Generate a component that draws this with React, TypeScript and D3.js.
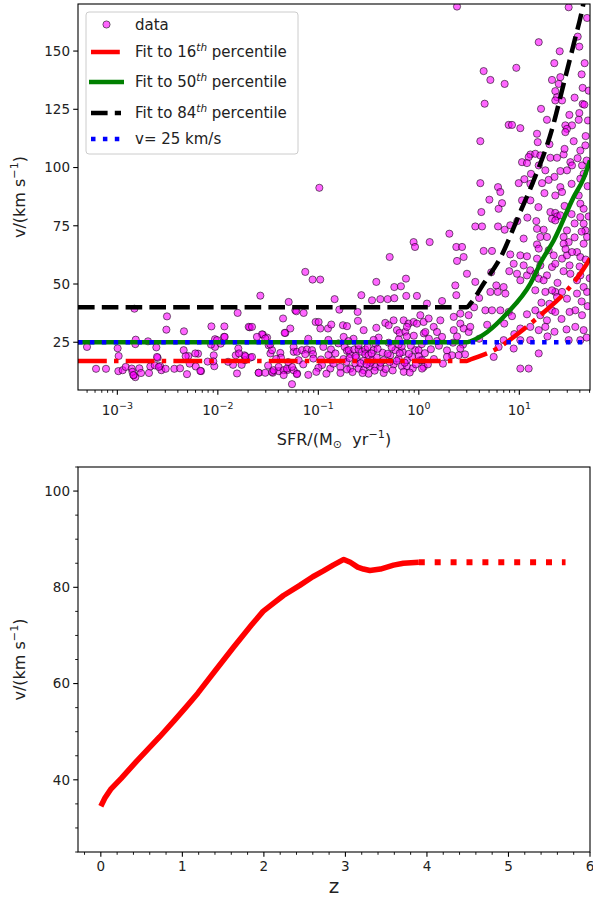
import React from 'react';
import * as d3 from 'd3';

const W = 593;
const H = 904;
const topBox = { l: 78, r: 590, t: 4, b: 390 };
const botBox = { l: 78, r: 590, t: 467, b: 852 };

const sfrDomain = [4.06e-4, 50.5];
const vTopDomain = [4.5, 170.2];
const zDomain = [-0.28, 6.0];
const vBotDomain = [25, 105];

const sfrTickExps = [-3, -2, -1, 0, 1];
const vTopTicks = [25, 50, 75, 100, 125, 150];
const zTicks = [0, 1, 2, 3, 4, 5, 6];
const vBotTicks = [40, 60, 80, 100];

// scatter: [log10 SFR, v]
const dataPoints: [number, number][] = [
  [-2.83,39.4],[-2.506,36.1],[-2.512,30.4],[-2.337,29.7],[-1.803,37.6],[-2.064,31.8],[-1.935,31.8],[-1.683,31.4],[-3.302,23.0],[-2.817,26.1],[-2.695,25.4],[-2.612,22.8],[-2.997,22.4],[-2.987,19.1],[-2.028,26.3],[-1.938,27.3],[-2.028,23.0],[-1.972,24.4],[-2.599,18.3],[-2.293,19.1],[-2.197,20.1],[-2.041,19.4],[-1.822,19.4],[-1.736,19.4],[-1.796,22.3],[-3.212,13.6],[-3.113,13.6],[-2.99,12.6],[-2.947,13.0],[-2.917,14.4],[-2.857,13.7],[-2.781,13.8],[-2.837,10.8],[-2.821,10.0],[-2.764,11.8],[-2.685,11.8],[-2.672,14.6],[-2.628,15.1],[-2.575,14.8],[-2.562,13.0],[-2.519,13.6],[-2.433,13.6],[-2.376,13.8],[-2.307,11.3],[-2.28,15.8],[-2.22,14.6],[-2.167,12.6],[-2.101,16.7],[-2.035,14.7],[-2.045,16.8],[-1.849,15.3],[-1.809,11.6],[-1.763,15.3],[-1.73,17.3],[-1.676,18.4],
  [-2.821,24.2],[-2.85,12.3],[-2.84,10.9],[-2.605,18.7],[-2.588,14.4],[-2.34,21.6],[-2.32,19.0],[-2.224,20.2],[-2.174,12.7],[-2.068,24.0],[-2.008,25.9],[-1.932,27.3],[-1.898,16.6],[-1.789,20.2],[-1.726,19.0],[-1.693,31.6],[-1.66,18.7],[-1.593,11.9],[-1.577,45.0],[-1.553,28.3],[-1.51,27.0],[-1.494,23.7],[-1.477,20.2],[-1.454,11.9],[-1.394,12.6],[-1.351,35.2],[-1.328,29.0],[-1.295,42.3],[-1.311,13.0],[-1.262,7.0],[-1.245,20.9],[-1.229,38.7],[-1.212,11.6],
  [-0.99,91.3],[-1.13,55.2],[-1.057,51.9],[-0.981,51.9],[-0.838,43.5],[-0.572,45.2],[-0.423,50.9],[-0.29,61.6],[-0.052,68.0],[-0.038,65.9],[-0.128,52.3],[-0.244,48.7],[-0.178,49.0],[-0.466,43.0],[-0.383,43.5],[-0.31,43.5],[-0.244,43.9],[-0.125,44.9],[-0.019,44.9],[-1.219,38.3],[-1.146,37.6],[-0.791,39.0],[-0.609,38.0],[-1.027,33.7],[-0.997,33.7],[-1.279,30.9],[-1.335,29.0],[-0.98,30.9],[-0.904,30.9],[-0.871,32.6],[-0.755,32.3],[-0.715,31.9],[-0.606,34.2],[-0.549,30.2],[-0.423,31.2],[-0.334,33.3],[-0.3,32.3],[-0.251,34.4],[-0.151,34.4],[-0.102,33.0],[-0.052,33.7],[-0.019,33.0],[0.048,33.7],[-0.218,30.2],[-0.191,29.0],[-0.135,29.5],[-0.118,31.6],[-1.561,28.4],[-1.528,26.6],[-1.461,21.6],[-1.478,24.1],[-1.378,20.4],[-1.372,18.4],[-1.246,23.0],[-1.213,20.9],[-1.163,21.6],[-1.113,21.9],[-1.063,21.6],[-1.053,19.9],[-1.13,19.9],[-0.874,21.9],[-0.974,17.6],[-0.964,15.2],[-0.881,13.7],[-0.864,17.3],[-0.748,27.3],[-0.738,23.0],[-0.715,21.3],[-0.682,19.9],[-0.698,21.6],[-0.642,21.9],[-0.682,13.7],[-0.715,13.3],[-0.781,14.4],[-0.599,21.9],[-0.566,20.9],[-0.533,21.9],[-0.509,23.0],[-0.533,19.9],[-0.5,19.4],[-0.45,21.6],[-0.433,24.4],[-0.632,15.9],[-0.599,13.7],[-0.549,13.0],[-0.489,14.7],[-0.466,17.3],[-0.433,14.4],[-0.383,14.4],[-0.35,17.3],[-0.284,19.4],[-0.234,21.6],[-0.201,18.0],[-0.168,14.7],[-0.118,14.7],[-0.118,17.3],[-0.068,18.7],[-0.035,21.6],[-0.002,21.6],[0.015,17.3],[0.048,14.4],[-1.594,11.9],[-1.528,11.9],[-1.461,12.3],[-1.445,13.0],[-1.395,14.4],[-1.345,13.0],[-1.312,13.7],[-1.246,13.0],[-1.213,11.3],[-1.345,10.9],[-1.196,17.3],[-1.66,31.6],[-1.611,27.3],[-1.262,14.4],
  [-0.9,26.0],[-0.8,24.5],[-0.65,26.5],[-0.4,27.0],[-0.3,24.8],[-0.2,26.2],[-0.05,27.8],[0.1,26.5],[-1.1,26.5],[-0.55,17.0],[-0.75,17.8],[-0.42,18.5],[-0.25,15.5],[-0.15,12.3],[-0.06,13.8],[-0.9,19.5],[-1.0,14.0],[-0.35,11.8],[-0.5,11.5],[-0.78,11.8],[-0.36,20.5],[-0.27,22.8],[-0.16,20.8],[-0.08,23.5],[0.03,24.2],[-0.62,18.3],[-0.48,16.2],
  [-0.72,16.5],[-0.69,18.2],[-0.66,12.2],[-0.63,19.0],[-0.58,16.0],[-0.56,11.8],[-0.52,15.5],[-0.47,20.2],[-0.44,12.8],[-0.41,22.2],[-0.38,16.2],[-0.33,13.5],[-0.31,20.0],[-0.29,16.5],[-0.26,12.9],[-0.22,17.0],[-0.19,20.3],[-0.17,23.2],[-0.14,16.2],[-0.1,20.0],[-0.09,12.0],[-0.03,15.5],[0.0,19.0],[0.06,20.3],[0.09,15.5],[0.12,22.0],[0.15,17.8],[0.2,23.5],[0.24,15.8],[0.28,21.5],[0.34,24.8],[0.44,24.0],[0.46,19.8],[-0.85,15.8],[-0.83,20.2],[-0.95,23.0],[-1.05,18.0],[-1.15,15.5],[-1.3,16.5],[-1.42,17.8],[-1.5,15.0],[-1.02,12.3],[-0.92,11.5],[-1.1,11.0],[-0.6,23.8],[-0.7,25.5],[-0.45,26.0],[-0.2,24.0],[-0.12,27.5],[0.05,28.8],[0.18,25.5],[0.38,27.5],
  [0.38,169.1],[1.491,168.8],[1.674,164.2],[1.581,156.2],[1.597,151.9],[1.193,153.8],[1.402,149.9],[1.348,144.8],[1.65,144.8],[0.645,141.4],[0.712,137.6],[0.854,135.9],[0.97,142.8],[0.655,127.4],[1.325,137.6],[1.408,138.8],[1.392,135.9],[1.63,134.2],[1.358,132.8],[1.375,130.2],[1.425,128.8],[1.358,128.8],[1.63,127.3],[1.647,127.0],[1.216,125.2],[1.498,122.6],[1.597,123.4],[1.275,120.5],[1.591,120.5],[1.683,120.2],[0.894,118.3],[0.927,118.3],[1.01,116.9],[1.458,118.1],[1.524,118.1],[1.474,116.6],
  [0.612,111.3],[1.176,114.5],[1.183,110.9],[1.458,115.2],[1.541,111.3],[1.657,109.5],[1.607,107.3],[1.11,105.6],[1.159,105.9],[1.209,105.2],[1.093,104.5],[1.027,102.3],[1.076,101.9],[1.309,104.2],[1.375,104.2],[1.441,105.6],[1.508,102.3],[1.524,100.9],[1.474,98.8],[1.408,98.5],[1.259,98.8],[1.193,100.9],[1.624,100.9],[1.64,97.3],[1.607,95.2],[1.116,97.3],[1.11,93.0],[1.226,93.3],[1.292,94.7],[0.612,93.3],[0.788,91.6],[0.811,89.5],[0.828,84.7],[0.794,82.3],[0.702,86.2],[0.622,80.9],[0.994,93.3],[1.11,85.9],[1.027,85.9],[1.408,91.6],[1.425,89.5],[1.358,88.0],[1.591,88.0],[1.607,84.5],[1.64,82.3],[1.309,80.9],[1.358,80.5],[1.375,79.0],[1.325,78.0],[1.358,77.3],[1.408,79.5],[1.169,77.0],[1.176,73.7],[1.242,73.3],[1.275,70.2],[1.209,70.2],[1.474,73.0],[1.441,70.2],[1.491,68.0],[1.441,67.3],[1.607,78.7],[1.64,75.9],[1.657,73.0],[1.674,70.2],[1.64,67.3],[1.574,63.7],[1.607,61.6],[0.562,74.7],[0.629,74.7],[0.788,74.7],[0.854,73.3],[0.91,75.2],[0.304,71.6],[0.108,68.0],[0.373,65.9],[0.43,65.9],[0.645,64.2],[0.728,64.2],[0.91,62.7],[1.01,62.3],[1.076,61.9],[1.176,67.0],[1.193,65.2],[1.176,60.9],[1.292,64.5],[1.342,62.3],[1.425,60.9],[1.474,62.3],[1.524,63.7],[1.043,69.5],[0.446,61.6],
  [0.38,59.9],[0.479,54.4],[0.363,49.4],[0.373,45.2],[0.562,50.9],[0.712,46.6],[0.785,46.6],[0.771,49.4],[0.844,48.7],[0.861,45.9],[0.944,58.7],[0.977,54.4],[1.043,58.0],[1.076,53.7],[1.01,51.6],[1.109,55.9],[1.159,54.4],[1.209,58.0],[1.275,53.7],[1.325,57.3],[1.358,58.7],[1.193,52.3],[1.242,51.6],[1.159,47.3],[1.259,46.6],[1.358,46.6],[1.375,44.4],[1.325,47.3],[1.508,54.4],[1.574,51.6],[1.607,53.7],[1.64,48.7],[1.674,46.6],[1.425,46.6],[1.474,43.7],[1.574,45.9],[0.081,41.6],[0.231,42.7],[0.015,36.6],[0.098,35.2],[0.214,34.4],[0.148,31.6],[0.065,29.4],[0.181,29.4],[0.231,27.3],[0.347,35.9],[0.413,33.0],[0.446,30.9],[0.347,30.2],[0.496,29.4],[0.512,31.6],[0.496,36.6],[0.413,37.3],[0.662,38.7],[0.728,38.7],[0.811,38.7],[0.894,38.0],[0.927,36.2],[1.076,37.0],[1.159,38.7],[1.209,36.6],[1.275,34.4],[1.325,38.7],[1.358,38.0],[1.01,30.9],[1.109,31.6],[1.193,30.2],[1.259,31.6],[1.557,38.7],[1.624,36.6],[1.64,30.2],[1.607,25.9],[1.557,31.6],[1.491,25.9],[0.844,25.9],[1.01,25.9],[1.109,25.9],[0.794,23.0],[0.944,22.3],[1.193,20.2],[0.413,22.3],[0.396,19.4],[0.33,19.4],[0.28,18.7],[0.032,17.3],[0.032,13.7],[1.01,13.7],[1.093,13.7],[0.745,18.7],
  [1.45,83.5],[1.52,93.0],[1.55,76.0],[1.58,104.0],[1.66,113.5],[1.68,92.0],[1.69,79.0],[1.62,72.5],[1.55,70.0],[1.5,58.0],[1.44,55.5],[1.6,57.5],[1.66,60.5],[1.7,52.5],[1.68,40.5],[1.62,42.5],[1.5,38.0],[1.42,35.0],[1.47,30.5],[1.67,27.0],[1.35,29.5],[1.28,27.5],[1.22,42.0],[1.3,41.5],[1.38,50.5],[1.46,65.0],[1.52,80.0],[1.35,96.0],[1.25,89.0],[1.19,83.0],[1.55,130.0],[1.62,140.0],[1.69,133.0],[1.67,103.0],[1.45,108.0],[1.3,110.0],[1.05,95.0],[0.98,77.0],[1.08,78.5],[0.9,55.5],[0.72,55.0],[0.6,44.0],[0.55,40.0],[0.68,32.5],[0.85,33.0],[0.95,28.5],[0.6,26.5]
];

// fitted curves: [SFR, v]
const fit16: [number, number][] = [[4.06e-4,17],[3.0,17],[3.26,17.6],[6.0,22.3],[10.2,29.4],[16.2,36.6],[29.9,47.3],[47,58.7],[50.5,61]];
const fit50: [number, number][] = [[4.06e-4,25],[3.0,25],[3.26,25.4],[4.8,29.4],[7.5,37.3],[12.9,50.2],[16.8,60.2],[22,68.7],[34.7,87.3],[43.7,95.4],[50.5,103]];
const fit84: [number, number][] = [[4.06e-4,40],[3.0,40],[3.26,41.6],[4.42,50.2],[6.47,61.2],[10.2,80.9],[13.9,94.5],[21.1,116.3],[27.6,135.9],[34.8,153.1],[43,169.5],[45,174]];
const vConst: [number, number][] = [[4.06e-4,25],[50.5,25]];

// bottom panel
const zSolid = [0,0.05,0.12,0.25,0.44,0.72,0.9,1.05,1.19,1.4,1.63,1.85,1.99,2.08,2.24,2.44,2.6,2.73,2.85,2.98,3.06,3.15,3.22,3.3,3.43,3.59,3.71,3.9];
const vSolid = [34.5,36.2,38.0,40.3,43.9,48.9,52.3,55.2,58.0,62.6,67.6,72.2,75.0,76.2,78.3,80.4,82.2,83.4,84.6,85.8,85.2,84.2,83.8,83.5,83.8,84.6,85.0,85.2];
const zDotted = [3.9, 5.7];
const vDotted = [85.2, 85.2];

const FONT = '"DejaVu Sans", sans-serif';

function expLabel(e: number) {
  return e < 0 ? '\u2212' + Math.abs(e) : String(e);
}

export default function App() {
  const xT = d3.scaleLog().domain(sfrDomain).range([topBox.l, topBox.r]);
  const yT = d3.scaleLinear().domain(vTopDomain).range([topBox.b, topBox.t]);
  const xB = d3.scaleLinear().domain(zDomain).range([botBox.l, botBox.r]);
  const yB = d3.scaleLinear().domain(vBotDomain).range([botBox.b, botBox.t]);

  const fitLine = d3.line<[number, number]>().x(d => xT(d[0])).y(d => yT(d[1])).curve(d3.curveMonotoneX);

  const solidPath = d3.line<number>().x(d => xB(zSolid[d])).y(d => yB(vSolid[d]))(zSolid.map((_, i) => i)) || '';
  const dottedPath = d3.line<number>().x(d => xB(zDotted[d])).y(d => yB(vDotted[d]))(zDotted.map((_, i) => i)) || '';

  const allLogTicks = xT.ticks();
  const minorLog = allLogTicks.filter(t => Math.abs(Math.log10(t) - Math.round(Math.log10(t))) > 1e-6);
  const zMinor = d3.range(-0.2, 6.01, 0.2).filter(t => Math.abs(t - Math.round(t)) > 1e-6);
  const vBotMinor = d3.range(25, 105.1, 5).filter(t => t % 20 !== 0);

  const tickFs = 13.5;
  const labelFs = 16;
  const ptFill = '#ff00ff';
  const ptOp = 0.6;

  return (
    <svg width={W} height={H} style={{ position: 'absolute', left: 0, top: 0, background: '#fff' }} fontFamily={FONT}>
      <defs>
        <clipPath id="clipTop"><rect x={topBox.l} y={topBox.t} width={topBox.r - topBox.l} height={topBox.b - topBox.t} /></clipPath>
        <clipPath id="clipBot"><rect x={botBox.l} y={botBox.t} width={botBox.r - botBox.l} height={botBox.b - botBox.t} /></clipPath>
      </defs>
      <rect x={0} y={0} width={W} height={H} fill="#fff" />

      {/* ---------- TOP PANEL ---------- */}
      <g clipPath="url(#clipTop)">
        {dataPoints.map((p, i) => (
          <circle key={i} cx={xT(Math.pow(10, p[0]))} cy={yT(p[1])} r={3.6}
            fill={ptFill} fillOpacity={ptOp} stroke="#000" strokeOpacity={0.55} strokeWidth={1} />
        ))}
        <path d={fitLine(fit16) || ''} fill="none" stroke="red" strokeWidth={4.5} strokeDasharray="28.8,7.2,4.5,7.2" />
        <path d={fitLine(fit50) || ''} fill="none" stroke="green" strokeWidth={4.5} />
        <path d={fitLine(fit84) || ''} fill="none" stroke="black" strokeWidth={4.5} strokeDasharray="16.6,7.2" />
        <path d={fitLine(vConst) || ''} fill="none" stroke="blue" strokeWidth={4.5} strokeDasharray="4.5,7.4" />
      </g>
      <rect x={topBox.l} y={topBox.t} width={topBox.r - topBox.l} height={topBox.b - topBox.t} fill="none" stroke="#000" strokeWidth={1.1} />
      {sfrTickExps.map(e => {
        const x = xT(Math.pow(10, e));
        return (
          <g key={e}>
            <line x1={x} x2={x} y1={topBox.b} y2={topBox.b + 4.8} stroke="#000" strokeWidth={1.1} />
            <text x={x} y={415} textAnchor="middle" fontSize={tickFs} fill="#222">
              10<tspan dy={-6.5} fontSize={tickFs * 0.7}>{expLabel(e)}</tspan>
            </text>
          </g>
        );
      })}
      {minorLog.map((t, i) => (
        <line key={i} x1={xT(t)} x2={xT(t)} y1={topBox.b} y2={topBox.b + 2.8} stroke="#000" strokeWidth={0.9} />
      ))}
      {vTopTicks.map(v => (
        <g key={v}>
          <line x1={topBox.l - 4.8} x2={topBox.l} y1={yT(v)} y2={yT(v)} stroke="#000" strokeWidth={1.1} />
          <text x={topBox.l - 8} y={yT(v)} dy="0.36em" textAnchor="end" fontSize={tickFs} fill="#222">{v}</text>
        </g>
      ))}
      <text x={(topBox.l + topBox.r) / 2} y={445} textAnchor="middle" fontSize={labelFs} fill="#222">
        SFR/(M<tspan dy={3} fontSize={labelFs * 0.7}>{'\u2299'}</tspan><tspan dy={-3}>{'\u00a0 yr'}</tspan><tspan dy={-7} fontSize={labelFs * 0.7}>{'\u22121'}</tspan><tspan dy={7}>)</tspan>
      </text>
      <text transform={`translate(25,${(topBox.t + topBox.b) / 2}) rotate(-90)`} textAnchor="middle" fontSize={labelFs} fill="#222">
        v/(km s<tspan dy={-7} fontSize={labelFs * 0.7}>{'\u22121'}</tspan><tspan dy={7}>)</tspan>
      </text>

      {/* legend */}
      <g>
        <rect x={86} y={12} width={212} height={142} rx={3} fill="#fff" fillOpacity={0.8} stroke="#cccccc" strokeWidth={1} />
        <circle cx={106.5} cy={24.5} r={3.6} fill={ptFill} fillOpacity={ptOp} stroke="#000" strokeOpacity={0.55} strokeWidth={1} />
        <text x={135} y={25} dy="0.36em" fontSize={15} fill="#222">data</text>
        <line x1={91} x2={120} y1={52} y2={52} stroke="red" strokeWidth={4.5} strokeDasharray="28.8,7.2,4.5,7.2" />
        <text x={135} y={52} dy="0.36em" fontSize={15} fill="#222">Fit to 16<tspan dy={-6} fontSize={10.5} fontStyle="italic">th</tspan><tspan dy={6}> percentile</tspan></text>
        <line x1={89} x2={124} y1={82} y2={82} stroke="green" strokeWidth={4.5} />
        <text x={135} y={82} dy="0.36em" fontSize={15} fill="#222">Fit to 50<tspan dy={-6} fontSize={10.5} fontStyle="italic">th</tspan><tspan dy={6}> percentile</tspan></text>
        <line x1={91} x2={121} y1={113} y2={113} stroke="black" strokeWidth={4.5} strokeDasharray="16.6,7.2" />
        <text x={135} y={113} dy="0.36em" fontSize={15} fill="#222">Fit to 84<tspan dy={-6} fontSize={10.5} fontStyle="italic">th</tspan><tspan dy={6}> percentile</tspan></text>
        <line x1={91} x2={121} y1={139} y2={139} stroke="blue" strokeWidth={4.5} strokeDasharray="4.5,7.4" />
        <text x={135} y={139} dy="0.36em" fontSize={15} fill="#222">v= 25 km/s</text>
      </g>

      {/* ---------- BOTTOM PANEL ---------- */}
      <g clipPath="url(#clipBot)">
        <path d={solidPath} fill="none" stroke="red" strokeWidth={5.5} strokeLinejoin="round" strokeLinecap="butt" />
        <path d={dottedPath} fill="none" stroke="red" strokeWidth={6} strokeDasharray="6,9.9" />
      </g>
      <rect x={botBox.l} y={botBox.t} width={botBox.r - botBox.l} height={botBox.b - botBox.t} fill="none" stroke="#000" strokeWidth={1.1} />
      {zTicks.map(z => (
        <g key={z}>
          <line x1={xB(z)} x2={xB(z)} y1={botBox.b} y2={botBox.b + 4.8} stroke="#000" strokeWidth={1.1} />
          <text x={xB(z)} y={871} textAnchor="middle" fontSize={tickFs} fill="#222">{z}</text>
        </g>
      ))}
      {zMinor.map((t, i) => (
        <line key={i} x1={xB(t)} x2={xB(t)} y1={botBox.b} y2={botBox.b + 2.8} stroke="#000" strokeWidth={0.9} />
      ))}
      {vBotTicks.map(v => (
        <g key={v}>
          <line x1={botBox.l - 4.8} x2={botBox.l} y1={yB(v)} y2={yB(v)} stroke="#000" strokeWidth={1.1} />
          <text x={botBox.l - 8} y={yB(v)} dy="0.36em" textAnchor="end" fontSize={tickFs} fill="#222">{v}</text>
        </g>
      ))}
      {vBotMinor.map((t, i) => (
        <line key={i} x1={botBox.l - 2.8} x2={botBox.l} y1={yB(t)} y2={yB(t)} stroke="#000" strokeWidth={0.9} />
      ))}
      <text x={(botBox.l + botBox.r) / 2} y={893} textAnchor="middle" fontSize={20} fill="#222">z</text>
      <text transform={`translate(25,${(botBox.t + botBox.b) / 2}) rotate(-90)`} textAnchor="middle" fontSize={labelFs} fill="#222">
        v/(km s<tspan dy={-7} fontSize={labelFs * 0.7}>{'\u22121'}</tspan><tspan dy={7}>)</tspan>
      </text>
    </svg>
  );
}
